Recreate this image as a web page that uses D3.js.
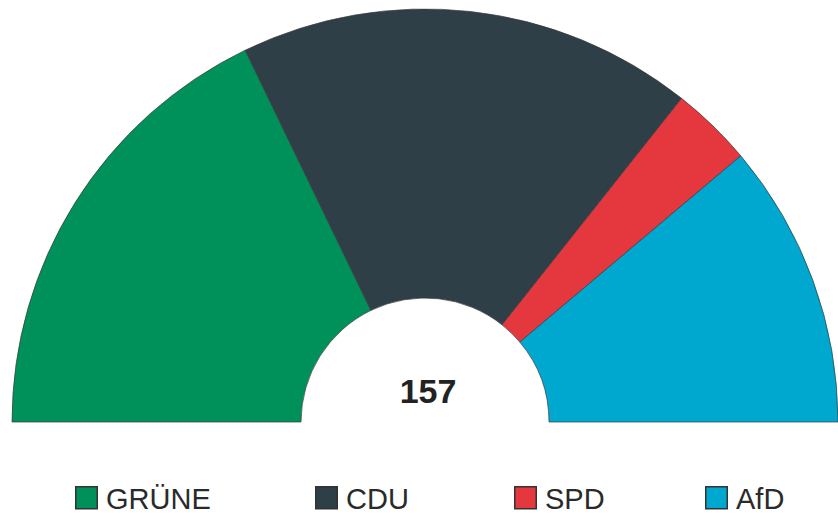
<!DOCTYPE html>
<html>
<head>
<meta charset="utf-8">
<script src="https://cdn.jsdelivr.net/npm/d3@7"></script>
<style>
  html, body { margin: 0; padding: 0; background: #fff; }
  svg { display: block; }
</style>
</head>
<body>
<svg id="chart" width="838" height="515"></svg>
<script>
const parties = ["GRÜNE", "CDU", "SPD", "AfD"];
const seats = [56, 56, 10, 35];
const colors = ["#00905a", "#2f3f47", "#e5373e", "#00a7cf"];
const totalLabel = "157";

const svg = d3.select("#chart");
const cx = 425, cy = 422, outerR = 413, innerR = 124;

const pie = d3.pie().sort(null).startAngle(-Math.PI / 2).endAngle(Math.PI / 2);
const arc = d3.arc().innerRadius(innerR).outerRadius(outerR);
const data = parties.map((p, i) => ({ party: p, seats: seats[i], color: colors[i] }));

const g = svg.append("g").attr("transform", `translate(${cx},${cy})`);
g.selectAll("path")
  .data(pie.value(d => d.seats)(data))
  .join("path")
  .attr("d", arc)
  .attr("fill", d => d.data.color)
  .attr("stroke", "#3a3a3a")
  .attr("stroke-opacity", 0.7)
  .attr("stroke-width", 1);

g.append("text")
  .attr("x", 3)
  .attr("y", -19)
  .attr("text-anchor", "middle")
  .attr("font-family", "Liberation Sans, Arial, sans-serif")
  .attr("font-weight", "bold")
  .attr("font-size", 34)
  .attr("fill", "#222")
  .text(totalLabel);

const legendX = [75, 315, 514, 705];
const lg = svg.append("g");
const items = lg.selectAll("g").data(data).join("g")
  .attr("transform", (d, i) => `translate(${legendX[i]},486)`);
items.append("rect")
  .attr("x", 0.75).attr("y", 0.75)
  .attr("width", 21.5).attr("height", 22)
  .attr("fill", d => d.color)
  .attr("stroke", "#333")
  .attr("stroke-width", 1.5);
items.append("text")
  .attr("x", 31)
  .attr("y", 22.5)
  .attr("font-family", "Liberation Sans, Arial, sans-serif")
  .attr("font-size", 29)
  .attr("fill", "#2a2a2a")
  .text(d => d.party);
</script>
</body>
</html>
